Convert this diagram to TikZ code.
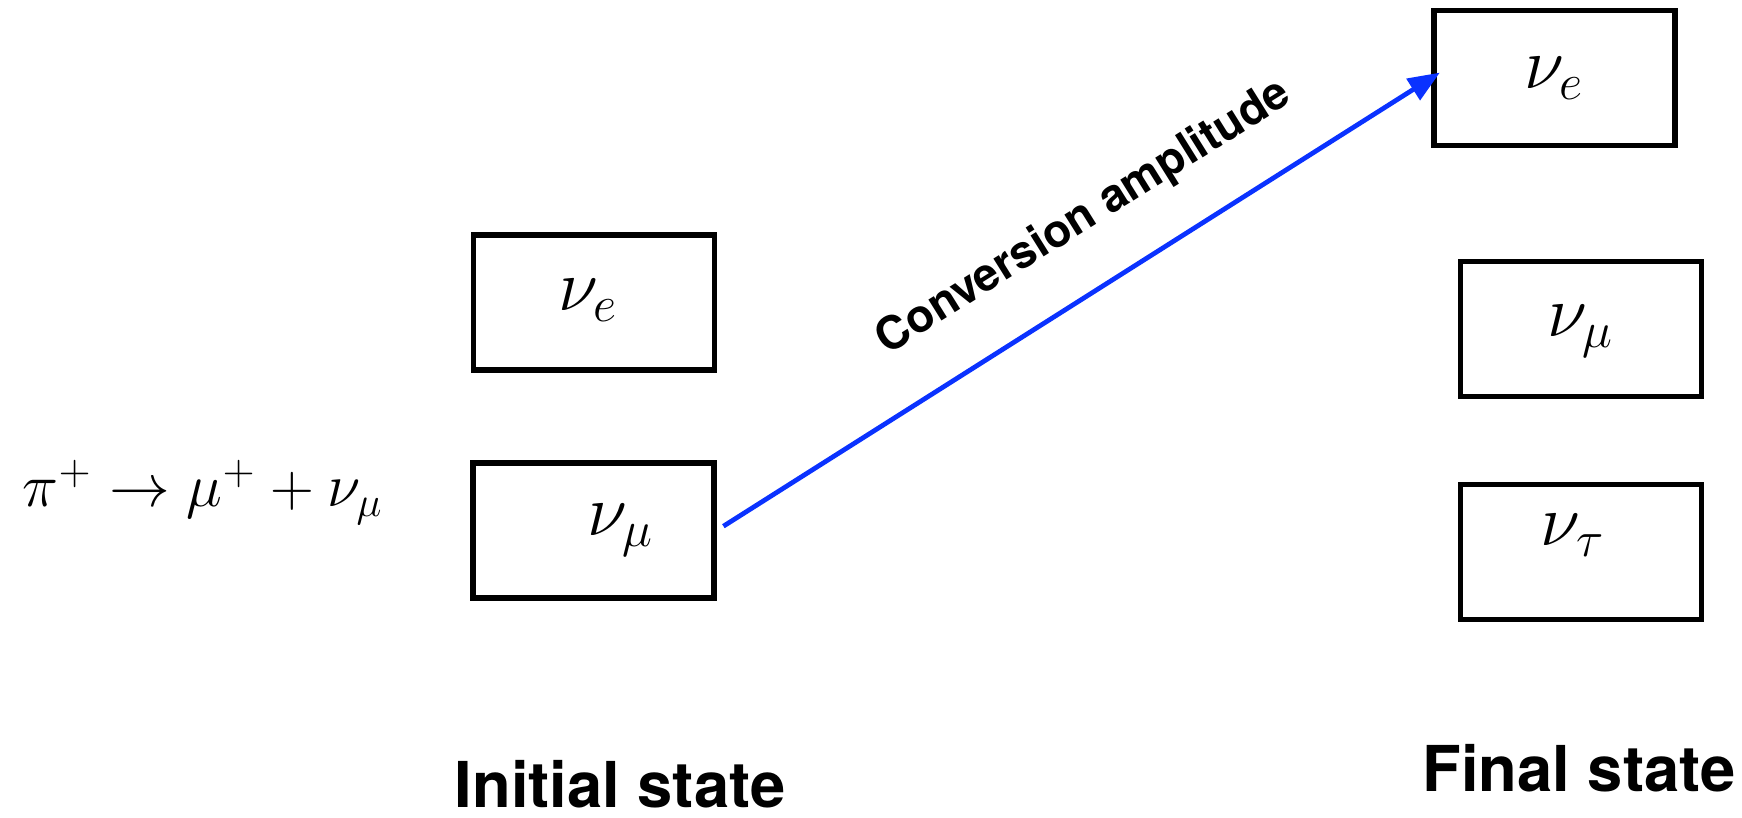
\documentclass[tikz,border=0pt]{standalone}
\usepackage{amsmath}
\usepackage{fontspec}
\setsansfont{TeX Gyre Heros}
\usetikzlibrary{positioning, calc, arrows.meta}
\definecolor{convblue}{RGB}{10,50,255}

\begin{document}
\begin{tikzpicture}[
        statebox/.style={draw, line width=1.5pt, minimum width=2.41cm, minimum height=1.35cm, inner sep=0pt},
        nulabel/.style={font=\fontsize{20}{24}\selectfont, inner sep=0pt},
        heading/.style={font=\sffamily\bfseries\fontsize{18}{22}\selectfont, anchor=base, inner sep=0pt}]
        \useasboundingbox (0,0) rectangle (17.42,8.18);

        % state boxes
        \node[statebox] (ine) at (5.94,5.155) {};
        \node[statebox] (inmu) at (5.935,2.875) {};
        \node[statebox] (fine) at (15.545,7.40) {};
        \node[statebox] (finmu) at (15.81,4.89) {};
        \node[statebox] (fintau) at (15.81,2.66) {};

        % flavour labels inside the boxes
        \foreach \b/\dx/\dy/\labeltext in {ine/-0.06/0.02/$\nu_e$, inmu/0.27/0.0/$\nu_\mu$, fine/0/0/$\nu_e$, finmu/0/-0.02/$\nu_\mu$, fintau/-0.08/0.17/$\nu_\tau$}
            \node[nulabel] (\b-text) at ([shift={(\dx,\dy)}]\b.center) {\labeltext};

        % production
        \node[font=\fontsize{16.5}{19}\selectfont, anchor=base west, inner sep=0pt] (decay) at (0.22,3.11) {$\pi^+ \rightarrow \mu^+ + \nu_\mu$};

        % directed edge
        \draw[convblue, line width=1.35pt, -{Triangle[length=9pt,width=7pt]}, shorten <=0.08cm, shorten >=-0.1cm] (inmu.east) -- (fine.west);
        \node[font=\sffamily\bfseries\fontsize{13}{16}\selectfont, rotate=32, inner sep=0pt] (conv) at (10.84,6.00) {Conversion amplitude};

        % headings
        \node[heading] (initial) at (6.20,0.10) {Initial state};
        \node[heading] (final) at (15.79,0.26) {Final state};

    \end{tikzpicture}
\end{document}
